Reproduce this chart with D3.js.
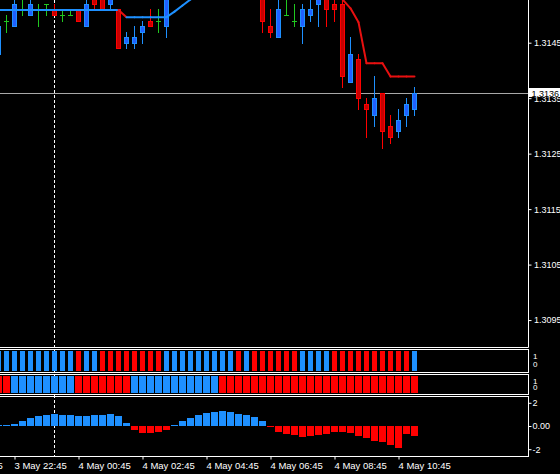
<!DOCTYPE html>
<html><head><meta charset="utf-8">
<script src="https://cdn.jsdelivr.net/npm/d3@7/dist/d3.min.js"></script>
<style>html,body{margin:0;padding:0;background:#000;overflow:hidden}svg{display:block}</style>
</head><body>
<svg id="c" width="560" height="474"></svg>
<script>
// ---------- DATA (M15 bars, index 0 = 3 May 22:15) ----------
const startTime = "2012-05-03T22:15:00";
const open  = [1.3143,1.3149,1.3148,1.3151,1.3150,1.3151,1.3152,1.3151,1.3150,1.3150,1.3151,1.3148,1.3153,1.3154,1.3152,1.3151,1.3145,1.3145,1.3147,1.3149,1.3149,1.3148,1.3154,1.3157,1.3159,1.3161,1.3160,1.3163,1.3165,1.3164,1.3161,1.3159,1.3157,1.3155,1.3148,1.3146,1.3150,1.3149,1.3148,1.3150,1.3152,1.3154,1.3152,1.3152,1.3138,1.3142,1.3134,1.3132,1.3136,1.3130,1.3129,1.3132,1.3133];
const high  = [1.3149,1.3150,1.3153,1.3153,1.3153,1.3152,1.3152,1.3152,1.3151,1.3151,1.3151,1.3153,1.3154,1.3155,1.3155,1.3151,1.3147,1.3148,1.3149,1.3151,1.3151,1.3155,1.3158,1.3160,1.3162,1.3163,1.3164,1.3166,1.3167,1.3165,1.3163,1.3161,1.3158,1.3156,1.3151,1.3153,1.3153,1.3152,1.3152,1.3153,1.3155,1.3155,1.3153,1.3153,1.3146,1.3143,1.3135,1.3139,1.3136,1.3132,1.3133,1.3135,1.3137];
const low   = [1.3142,1.3147,1.3148,1.3150,1.3150,1.3148,1.3150,1.3150,1.3149,1.3150,1.3149,1.3148,1.3151,1.3151,1.3151,1.3144,1.3144,1.3144,1.3145,1.3148,1.3147,1.3146,1.3153,1.3156,1.3158,1.3159,1.3159,1.3162,1.3163,1.3160,1.3158,1.3156,1.3154,1.3147,1.3146,1.3146,1.3150,1.3148,1.3145,1.3149,1.3148,1.3148,1.3149,1.3137,1.3138,1.3133,1.3128,1.3130,1.3126,1.3127,1.3128,1.3130,1.3132];
const close = [1.3148,1.3149,1.3152,1.3151,1.3152,1.3151,1.3152,1.3150,1.3150,1.3150,1.3149,1.3152,1.3152,1.3151,1.3154,1.3144,1.3146,1.3146,1.3148,1.3148,1.3149,1.3154,1.3157,1.3159,1.3161,1.3160,1.3163,1.3165,1.3164,1.3161,1.3159,1.3157,1.3155,1.3149,1.3147,1.3151,1.3150,1.3149,1.3151,1.3151,1.3154,1.3151,1.3151,1.3139,1.3143,1.3135,1.3133,1.3135,1.3129,1.3128,1.3131,1.3134,1.3136];
// trend line (2-colour) values and colour of the segment ending at each bar (1 = down/red)
const trendLine = [1.31509,1.31509,1.31509,1.31509,1.31509,1.31509,1.31509,1.31509,1.31509,1.31509,1.31509,1.31509,1.31509,1.31509,1.31509,1.31509,
  1.31496,1.31496,1.31496,1.31496,1.31496,1.31496,1.31506,1.31517,1.31528,
  1.31540,1.31550,1.31558,1.31564,1.31568,1.31570,1.31571,1.31571,1.31570,1.31567,1.31563,1.31559,1.31556,1.31553,1.31550,1.31547,1.31545,1.31543,
  1.31528,1.31512,1.31487,1.31413,1.31413,1.31413,1.31389,1.31389,1.31389,1.31389];
const trendDown = [0,0,0,0,0,0,0,0,0,0,0,0,0,0,0,0,1,0,0,0,0,0,0,0,0,0,0,0,0,0,0,0,0,0,1,1,1,1,1,1,1,1,1,1,1,1,1,1,1,1,1,1,1];
// indicator 1 and 2: 1 = up (blue), 0 = down (red)
const ind1 = [1,1,1,1,1,1,1,1,1,1, 0, 1,1, 0,0,0,0,0,0,0,0, 1,1,1,1,1,1,1,1,1, 0, 1, 0,0,0,0,0,0, 1,1,1,1, 0,0,0,0,0,0,0,0,0,0, 1];
const ind2 = [0,0, 1,1,1,1,1,1,1,1, 0,0,0,0,0,0,0, 1,1,1,1,1,1,1,1,1,1,1, 0,0,0,0,0,0,0,0,0,0,0,0,0,0,0,0,0,0,0,0,0,0,0,0,0];
// indicator 3 histogram
const hist = [0.09,0.09,0.17,0.43,0.69,0.89,0.97,1.03,0.97,0.95,0.86,0.86,0.97,0.97,1.03,0.86,0.26,-0.32,-0.58,-0.58,-0.49,-0.32,0.09,0.43,0.72,0.95,1.09,1.21,1.29,1.21,1.03,0.95,0.78,0.43,-0.11,-0.49,-0.69,-0.78,-0.92,-0.86,-0.78,-0.69,-0.52,-0.52,-0.6,-0.84,-1.06,-1.29,-1.41,-1.64,-1.87,-0.69,-0.86];
const priceTicks = [1.3145,1.3135,1.3125,1.3115,1.3105,1.3095];
const currentPrice = 1.3136;
const timeTickBars = [-6,2,10,18,26,34,42,50];
const timeTickLabels = ["3 May 20:45","3 May 22:45","4 May 00:45","4 May 02:45","4 May 04:45","4 May 06:45","4 May 08:45","4 May 10:45"];
const histTicks = [2,0,-2];
const histTickLabels = ["2","0.00","-2"];
const separatorBar = 7; // 4 May 00:00

// ---------- STYLE ----------
const BLUE="#1E90FF", BULLFILL="#2060FF", RED="#FF0000", BEARFILL="#C80000", DOJI="#20C820", TRENDRED="#E81010";
const FONT="'Liberation Sans', Arial, sans-serif";
const RIGHT=528.5;

const svg=d3.select("#c");
svg.append("rect").attr("width",560).attr("height",474).attr("fill","#000");

const n=open.length;
const x=d3.scaleLinear().domain([0,n-1]).range([-1.5,-1.5+8*(n-1)]);
const y=d3.scaleLinear().domain([1.3095,1.3145]).range([320.05,42.7]);
const y1=d3.scaleLinear().domain([0,1]).range([371,351]);
const y2=d3.scaleLinear().domain([0,1]).range([393,376]);
const yh=d3.scaleLinear().domain([-2,2]).range([449.2,402.8]);
const sy=v=>Math.round(y(v));

svg.append("defs").append("clipPath").attr("id","mainClip")
  .append("rect").attr("x",0).attr("y",0).attr("width",RIGHT).attr("height",347);

// separator (dashed) through all windows
svg.append("line").attr("x1",x(separatorBar)).attr("x2",x(separatorBar)).attr("y1",0).attr("y2",456)
  .attr("stroke","#fff").attr("stroke-width",1).attr("stroke-dasharray","3,2");

const main=svg.append("g").attr("clip-path","url(#mainClip)");

// current price line
main.append("line").attr("x1",0).attr("x2",RIGHT).attr("y1",sy(currentPrice)+0.5).attr("y2",sy(currentPrice)+0.5)
  .attr("stroke","#A8A8A8").attr("stroke-width",1);

// candles
const idx=d3.range(n);
const cg=main.append("g");
idx.forEach(i=>{
  const cx=x(i), o=open[i], c=close[i], h=high[i], l=low[i];
  const col = c>o?BLUE:(c<o?RED:DOJI);
  cg.append("line").attr("x1",cx).attr("x2",cx).attr("y1",sy(h)).attr("y2",sy(l)+1)
    .attr("stroke",col).attr("stroke-width",1);
  if(c===o){
    cg.append("line").attr("x1",cx-2.5).attr("x2",cx+2.5).attr("y1",sy(o)+0.5).attr("y2",sy(o)+0.5)
      .attr("stroke",col).attr("stroke-width",1);
  } else {
    const top=sy(Math.max(o,c)), bot=sy(Math.min(o,c));
    cg.append("rect").attr("x",cx-2).attr("width",4).attr("y",top+0.5).attr("height",Math.max(bot-top,1))
      .attr("fill",c>o?BULLFILL:BEARFILL).attr("stroke",col).attr("stroke-width",1);
  }
});

// two-colour trend line
for(let i=1;i<n;i++){
  main.append("line")
    .attr("x1",x(i-1)).attr("y1",y(trendLine[i-1]))
    .attr("x2",x(i)).attr("y2",y(trendLine[i]))
    .attr("stroke",trendDown[i]?TRENDRED:BLUE).attr("stroke-width",2).attr("stroke-linecap","round");
}

// frames
const frame=svg.append("g").attr("stroke","#fff").attr("stroke-width",1).attr("fill","none");
frame.append("path").attr("d",`M0,347.5H${RIGHT}V0`);
frame.append("rect").attr("x",-1).attr("y",349.5).attr("width",RIGHT+1).attr("height",23);
frame.append("rect").attr("x",-1).attr("y",374.5).attr("width",RIGHT+1).attr("height",20);
frame.append("rect").attr("x",-1).attr("y",396.5).attr("width",RIGHT+1).attr("height",60);

// indicator 1
svg.append("g").selectAll("rect").data(idx).join("rect")
  .attr("x",i=>x(i)-2.5).attr("width",5).attr("y",y1(1)).attr("height",y1(0)-y1(1))
  .attr("fill",i=>ind1[i]?BLUE:RED);
// indicator 2
svg.append("g").selectAll("rect").data(idx).join("rect")
  .attr("x",i=>x(i)-3.5).attr("width",7).attr("y",y2(1)).attr("height",y2(0)-y2(1))
  .attr("fill",i=>ind2[i]?BLUE:RED);
// indicator 3 histogram
svg.append("g").selectAll("rect").data(idx).join("rect")
  .attr("x",i=>x(i)-3.5).attr("width",7)
  .attr("y",i=>Math.round(Math.min(yh(hist[i]),yh(0))))
  .attr("height",i=>Math.max(1,Math.abs(Math.round(yh(hist[i]))-Math.round(yh(0)))))
  .attr("fill",i=>hist[i]>=0?BLUE:RED);

// price axis
const pa=svg.append("g").attr("transform",`translate(${RIGHT},0)`)
  .call(d3.axisRight(y).tickValues(priceTicks).tickFormat(d3.format(".4f")).tickSize(3).tickSizeOuter(0));
pa.select(".domain").remove();
pa.selectAll(".tick line").attr("stroke","#fff");
pa.selectAll(".tick text").attr("fill","#fff").attr("x",5.5).attr("font-family",FONT).attr("font-size","9px");

// current price box
const cy=sy(currentPrice);
svg.append("rect").attr("x",529).attr("y",cy-5).attr("width",40).attr("height",9).attr("fill","#fff");
svg.append("text").attr("x",531.5).attr("y",cy+0.5).attr("dy","0.35em").attr("fill","#000")
  .attr("font-family",FONT).attr("font-size","9px").text(d3.format(".4f")(currentPrice));

// indicator 1/2 level labels
const lvl=svg.append("g").attr("fill","#fff").attr("font-family",FONT).attr("font-size","8px");
lvl.append("text").attr("x",533).attr("y",y1(1)+5.5).attr("dy","0.35em").text("1");
lvl.append("text").attr("x",533).attr("y",y1(0)-6.5).attr("dy","0.35em").text("0");
lvl.append("text").attr("x",533).attr("y",y2(1)+5).attr("dy","0.35em").text("1");
lvl.append("text").attr("x",533).attr("y",y2(0)-5.5).attr("dy","0.35em").text("0");

// histogram axis
const ha=svg.append("g").attr("transform",`translate(${RIGHT},0)`)
  .call(d3.axisRight(yh).tickValues(histTicks).tickFormat((d,i)=>histTickLabels[i]).tickSize(3).tickSizeOuter(0));
ha.select(".domain").remove();
ha.selectAll(".tick line").attr("stroke","#fff");
ha.selectAll(".tick text").attr("fill","#fff").attr("x",4).attr("font-family",FONT).attr("font-size","9px");

// time axis
const ta=svg.append("g").attr("transform","translate(0,456.5)")
  .call(d3.axisBottom(x).tickValues(timeTickBars).tickFormat((d,i)=>timeTickLabels[i]).tickSize(3).tickSizeOuter(0));
ta.select(".domain").remove();
ta.selectAll(".tick line").attr("stroke","#fff");
ta.selectAll(".tick text").attr("fill","#fff").attr("text-anchor","start").attr("x",-0.5).attr("y",12.5).attr("dy",0)
  .attr("font-family",FONT).attr("font-size","9.5px");
</script>
</body></html>
